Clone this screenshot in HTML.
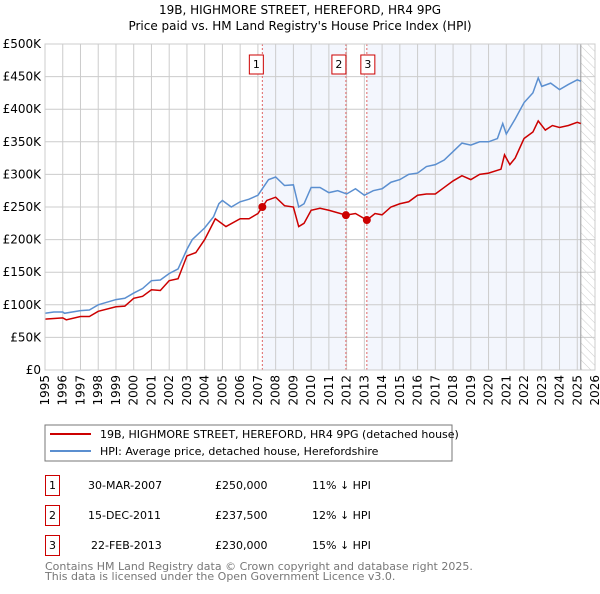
<!DOCTYPE html>
<html><head><meta charset="utf-8"><style>
body{margin:0;background:#fff;width:600px;height:590px;overflow:hidden;font-family:"DejaVu Sans","Liberation Sans",sans-serif}
svg text{font-family:"DejaVu Sans","Liberation Sans",sans-serif}
</style></head><body>
<svg id="chart" width="600" height="590" xmlns="http://www.w3.org/2000/svg">
<defs><pattern id="hatch" width="6" height="6" patternUnits="userSpaceOnUse" patternTransform="rotate(-45)"><line x1="0" y1="0" x2="0" y2="6" stroke="#ccc" stroke-width="1"/></pattern></defs>
<text x="300" y="14" text-anchor="middle" font-size="12">19B, HIGHMORE STREET, HEREFORD, HR4 9PG</text>
<text x="300" y="30" text-anchor="middle" font-size="12">Price paid vs. HM Land Registry's House Price Index (HPI)</text>
<g id="plot"></g>
<rect x="45" y="425" width="407" height="36" fill="#fff" stroke="#777"/>
<line x1="50" y1="434" x2="91" y2="434" stroke="#cc0000" stroke-width="2"/>
<text x="100" y="438" font-size="11">19B, HIGHMORE STREET, HEREFORD, HR4 9PG (detached house)</text>
<line x1="50" y1="451" x2="91" y2="451" stroke="#5b8fd0" stroke-width="2"/>
<text x="100" y="455" font-size="11">HPI: Average price, detached house, Herefordshire</text>
<g font-size="11">
<rect x="45.5" y="475.5" width="14" height="20" fill="none" stroke="#cc0000"/><text x="52.5" y="489" text-anchor="middle">1</text>
<text x="88" y="489">30-MAR-2007</text><text x="215" y="489">£250,000</text><text x="312" y="489">11% ↓ HPI</text>
<rect x="45.5" y="505.5" width="14" height="20" fill="none" stroke="#cc0000"/><text x="52.5" y="519" text-anchor="middle">2</text>
<text x="88" y="519">15-DEC-2011</text><text x="215" y="519">£237,500</text><text x="312" y="519">12% ↓ HPI</text>
<rect x="45.5" y="535.5" width="14" height="20" fill="none" stroke="#cc0000"/><text x="52.5" y="549" text-anchor="middle">3</text>
<text x="91" y="549">22-FEB-2013</text><text x="215" y="549">£230,000</text><text x="312" y="549">15% ↓ HPI</text>
</g>
<text x="45" y="570" font-size="11" fill="#777">Contains HM Land Registry data © Crown copyright and database right 2025.</text>
<text x="45" y="580" font-size="11" fill="#777">This data is licensed under the Open Government Licence v3.0.</text>
</svg>
<script>
const yTicks=[0,50,100,150,200,250,300,350,400,450,500];
const yTickLabels=["£0","£50K","£100K","£150K","£200K","£250K","£300K","£350K","£400K","£450K","£500K"];
const xYears=[1995,1996,1997,1998,1999,2000,2001,2002,2003,2004,2005,2006,2007,2008,2009,2010,2011,2012,2013,2014,2015,2016,2017,2018,2019,2020,2021,2022,2023,2024,2025,2026];
const hpiT=[1995,1995.5,1996,1996.1,1997,1997.5,1998,1999,1999.5,2000,2000.5,2001,2001.5,2002,2002.5,2003,2003.3,2004,2004.5,2004.8,2005,2005.5,2006,2006.5,2007,2007.3,2007.6,2008,2008.5,2009,2009.3,2009.6,2010,2010.5,2011,2011.5,2012,2012.5,2013,2013.5,2014,2014.5,2015,2015.5,2016,2016.5,2017,2017.5,2018,2018.5,2019,2019.5,2020,2020.5,2020.8,2021,2021.5,2022,2022.5,2022.8,2023,2023.5,2024,2024.5,2025,2025.2];
const hpiV=[87,89,89,87,91,92,100,108,110,118,125,137,138,148,155,185,200,218,235,255,260,250,258,262,268,280,292,296,283,284,250,255,280,280,272,275,270,278,268,275,278,288,292,300,302,312,315,322,335,348,345,350,350,355,378,362,385,410,425,448,435,440,430,438,445,443];
const ppT=[1995,1996,1996.2,1997,1997.5,1998,1999,1999.5,2000,2000.5,2001,2001.5,2002,2002.5,2003,2003.5,2004,2004.6,2005.2,2006,2006.5,2007,2007.25,2007.5,2008,2008.5,2009,2009.3,2009.6,2010,2010.5,2011,2011.96,2012.5,2013.14,2013.6,2014,2014.5,2015,2015.5,2016,2016.5,2017,2017.5,2018,2018.5,2019,2019.5,2020,2020.7,2020.9,2021.2,2021.5,2022,2022.5,2022.8,2023.2,2023.6,2024,2024.5,2025,2025.2];
const ppV=[78,80,77,82,82,90,97,98,110,113,123,122,137,140,175,180,200,232,220,232,232,240,250,260,265,252,250,220,225,245,248,245,237.5,240,230,240,238,250,255,258,268,270,270,280,290,298,292,300,302,308,330,315,325,355,365,382,368,375,372,375,380,378];
const saleT=[2007.25,2011.96,2013.14];
const saleV=[250,237.5,230];
const saleLabels=["1","2","3"];
const NS="http://www.w3.org/2000/svg";
const X0=45,X1=595,Y0=370,Y1=44;
const xs=t=>X0+(t-1995)/(2026-1995)*(X1-X0);
const ys=v=>Y0-v/500*(Y0-Y1);
const g=document.getElementById('plot');
function mk(tag,attrs){const e=document.createElementNS(NS,tag);for(const k in attrs)e.setAttribute(k,attrs[k]);g.appendChild(e);return e;}
let e;
e=mk('rect',{x:xs(saleT[0]),y:Y1,width:xs(saleT[1])-xs(saleT[0]),height:Y0-Y1,fill:'#f3f6fd'});


e=mk('rect',{x:xs(saleT[2]),y:Y1,width:xs(2025.2)-xs(saleT[2]),height:Y0-Y1,fill:'#f3f6fd'});


e=mk('rect',{x:xs(2025.2),y:Y1,width:X1-xs(2025.2),height:Y0-Y1,fill:'url(#hatch)'});


yTicks.forEach((v,i)=>{
 e=mk('line',{x1:X0,x2:X1,y1:ys(v),y2:ys(v),stroke:'#ccc'});
 
 
 e=mk('text',{x:X0-4,y:ys(v)+4,'text-anchor':'end','font-size':'12'});e.textContent=yTickLabels[i];
 
 
});
xYears.forEach(yr=>{
 e=mk('line',{x1:xs(yr),x2:xs(yr),y1:Y1,y2:Y0,stroke:'#ccc'});
 
 
 e=mk('text',{x:0,y:0,'font-size':'12','text-anchor':'end',transform:`translate(${xs(yr)+4},${Y0+5}) rotate(-90)`});e.textContent=yr;
 
 
});
e=mk('line',{x1:xs(2025.2),x2:xs(2025.2),y1:Y1,y2:Y0,stroke:'#999'});


saleT.forEach((t,i)=>{
 e=mk('line',{x1:xs(t),x2:xs(t),y1:Y1,y2:Y0,stroke:'#e06666','stroke-dasharray':'2,2'});
 
 
 const bx=xs(t)-(i==0?6:i==1?7:-1)-7;
 e=mk('rect',{x:bx,y:55,width:14,height:19,fill:'#fff',stroke:'#cc0000'});
 
 
 e=mk('text',{x:bx+7,y:68,'text-anchor':'middle','font-size':'11'});e.textContent=saleLabels[i];
 
 
});
e=mk('polyline',{points:hpiT.map((t,i)=>xs(t)+','+ys(hpiV[i])).join(' '),fill:'none',stroke:'#5b8fd0','stroke-width':1.5});


e=mk('polyline',{points:ppT.map((t,i)=>xs(t)+','+ys(ppV[i])).join(' '),fill:'none',stroke:'#cc0000','stroke-width':1.5});


saleT.forEach((t,i)=>{
 e=mk('circle',{cx:xs(t),cy:ys(saleV[i]),r:4,fill:'#cc0000'});
 
 
});
e=mk('rect',{x:X0,y:Y1,width:X1-X0,height:Y0-Y1,fill:'none',stroke:'#ccc'});


</script>
</body></html>
